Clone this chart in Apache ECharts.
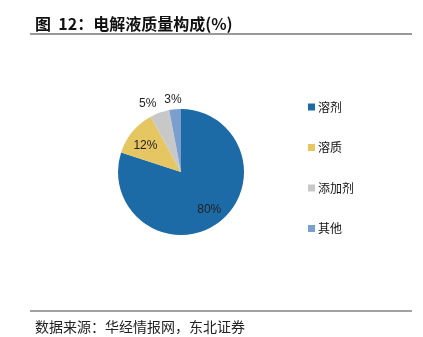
<!DOCTYPE html>
<html>
<head>
<meta charset="utf-8">
<script src="https://cdn.jsdelivr.net/npm/echarts@6/dist/echarts.min.js"></script>
<style>
  html, body { margin: 0; padding: 0; background: #fff; }
  #chart { width: 423px; height: 337px; }
</style>
</head>
<body>
<div id="chart"></div>
<script>
// Electrolyte mass composition (%)
const categories = ['溶剂', '溶质', '添加剂', '其他'];
const shares = [80, 12, 5, 3];
const colors = ['#1c6aa6', '#e5c662', '#c8c8c8', '#7a9fcf'];
// first two labels sit inside their slices, the small ones outside
const labelInside = [true, true, false, false];

const chart = echarts.init(document.getElementById('chart'));

const data = categories.map((name, i) => ({
  name,
  value: shares[i],
  itemStyle: { color: colors[i] },
  label: labelInside[i]
    ? { position: 'inside' }
    : { position: 'outside' }
}));

// small nudges so the labels sit clear of the slice edges
const labelNudge = [[8, 10], [-9, -4], [3, -5], [12, -6]];

chart.setOption({
  animation: false,
  title: [
    {
      text: '图  12：电解液质量构成(%)',
      left: 30, top: 11,
      textStyle: { fontFamily: 'Noto Sans CJK SC', fontWeight: 'bold', fontSize: 16, color: '#111' }
    },
    {
      text: '数据来源：华经情报网，东北证券',
      left: 30, top: 315,
      textStyle: { fontFamily: 'Noto Sans CJK SC', fontWeight: 'normal', fontSize: 14, color: '#222' }
    }
  ],
  graphic: [
    { type: 'line', shape: { x1: 30, y1: 34, x2: 412, y2: 34 }, style: { stroke: '#777', lineWidth: 1.5 } },
    { type: 'line', shape: { x1: 30, y1: 311, x2: 412, y2: 311 }, style: { stroke: '#444', lineWidth: 1 } }
  ],
  legend: {
    orient: 'vertical',
    left: 303, top: 96,
    itemWidth: 7, itemHeight: 7,
    itemGap: 28.5,
    icon: 'rect',
    textStyle: { fontFamily: 'Noto Sans CJK SC', fontSize: 12, color: '#111', padding: [0, 0, 0, -2] },
    data: categories
  },
  series: [{
    type: 'pie',
    center: [181, 172],
    radius: [0, 63],
    startAngle: 90,
    clockwise: true,
    avoidLabelOverlap: false,
    label: {
      formatter: '{c}%',
      fontFamily: 'Arial, Liberation Sans',
      fontSize: 12,
      color: '#222'
    },
    labelLine: { show: false, length: 4, length2: 0 },
    labelLayout: (p) => {
      const n = labelNudge[p.dataIndex];
      return { dx: n[0], dy: n[1] };
    },
    data
  }]
});
</script>
</body>
</html>
